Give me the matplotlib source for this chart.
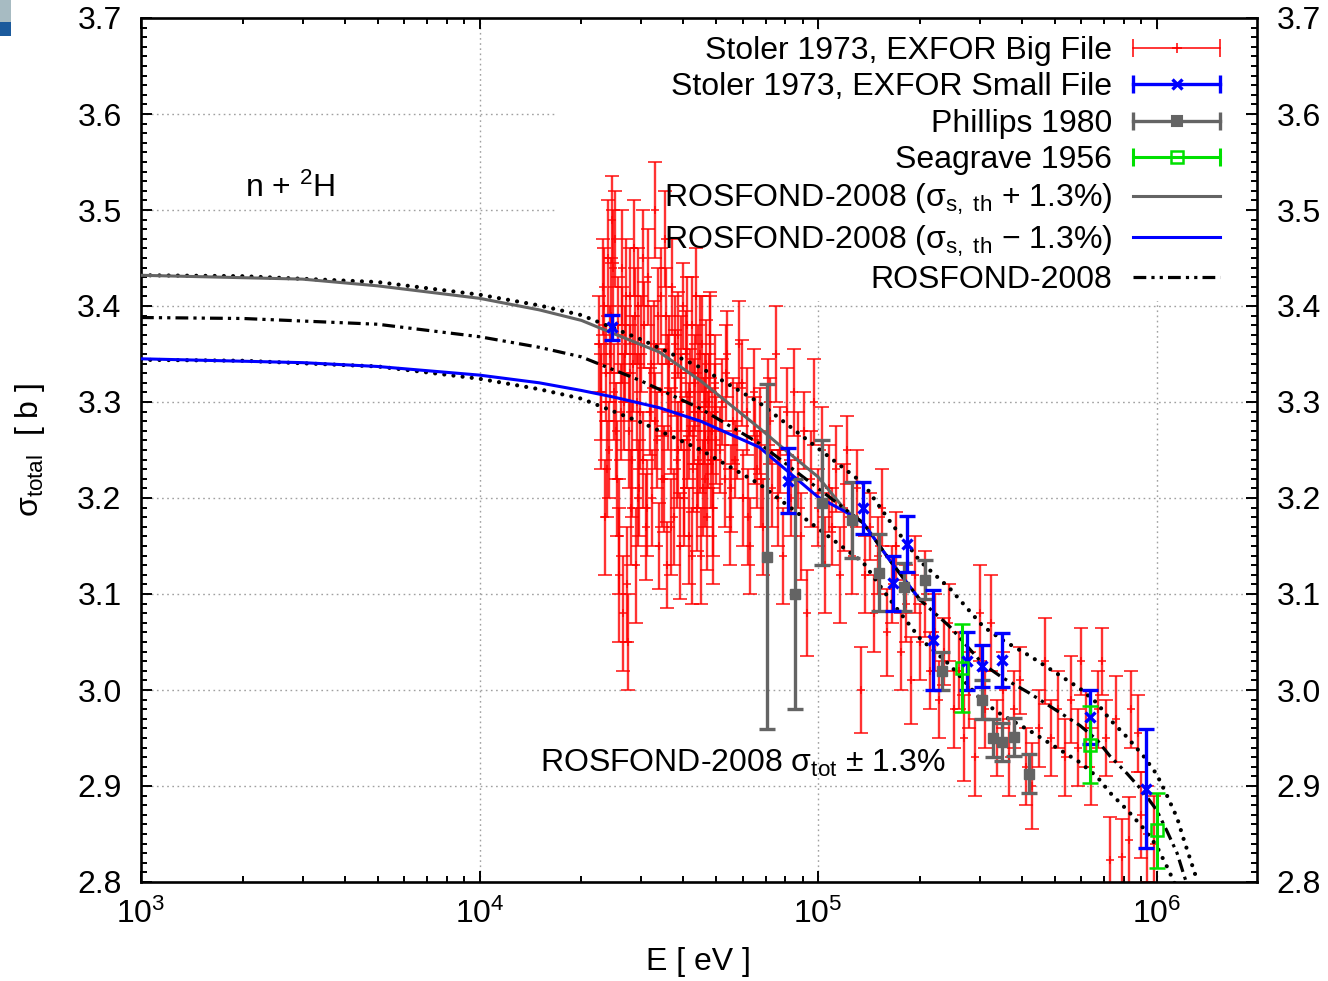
import matplotlib
matplotlib.use('Agg')
import matplotlib.pyplot as plt
from matplotlib.lines import Line2D
from matplotlib.patches import Rectangle
from matplotlib.legend_handler import HandlerLine2D
from matplotlib.ticker import MultipleLocator, LogLocator, FixedLocator, NullFormatter
import numpy as np

plt.rcParams['font.family'] = ['Liberation Sans', 'DejaVu Sans']
plt.rcParams['mathtext.fontset'] = 'custom'
plt.rcParams['mathtext.rm'] = 'Liberation Sans'
plt.rcParams['mathtext.it'] = 'Liberation Sans:italic'
plt.rcParams['mathtext.bf'] = 'Liberation Sans:bold'

FS = 23

# --- evaluated curves (E in eV, sigma in b) ---
ros_E = [1e3, 2e3, 5e3, 1e4, 1.5e4, 2e4, 3e4, 4.5e4, 6.7e4, 1.0e5, 1.36e5, 1.63e5,
         2.0e5, 2.45e5, 3.07e5, 3.5e5, 4.2e5, 5.1e5, 5.94e5, 6.67e5, 7.29e5, 8.18e5,
         9.13e5, 1.0e6, 1.07e6, 1.15e6, 1.2e6, 1.3e6]
ros_sig = [3.388, 3.387, 3.381, 3.368, 3.357, 3.347, 3.322, 3.293, 3.257, 3.210, 3.174, 3.135,
           3.094, 3.066, 3.027, 3.013, 2.997, 2.978, 2.963, 2.948, 2.931, 2.913,
           2.894, 2.875, 2.854, 2.830, 2.809, 2.772]

plus_E = [1e3, 3e3, 5e3, 1e4, 1.5e4, 2e4, 2.5e4, 3.4e4, 4.5e4, 6.7e4, 8e4, 1.0e5, 1.2e5,
          1.36e5, 1.63e5, 2.0e5]
plus_sig = [3.432, 3.428, 3.421, 3.408, 3.396, 3.385, 3.371, 3.352, 3.322, 3.273, 3.250, 3.222, 3.188,
            3.174, 3.135, 3.094]

minus_E = [1e3, 3e3, 5e3, 1e4, 1.5e4, 2e4, 2.5e4, 3.4e4, 4.5e4, 6.7e4, 8e4, 1.0e5, 1.2e5,
           1.36e5, 1.63e5, 2.0e5]
minus_sig = [3.345, 3.341, 3.337, 3.328, 3.320, 3.312, 3.305, 3.294, 3.280, 3.253, 3.230, 3.201, 3.186,
             3.174, 3.135, 3.094]

band = 0.013  # ROSFOND-2008 sigma_tot +- 1.3 %

# --- Stoler 1973, EXFOR big file (E in keV) ---
big_E = [22.6, 22.9, 23.1, 23.4, 23.6, 23.9, 24.1, 24.4, 24.6, 24.9,
         25.1, 25.4, 25.6, 25.9, 26.1, 26.4, 26.6, 26.9, 27.1, 27.4,
         27.6, 27.9, 28.1, 28.4, 28.6, 28.9, 29.1, 29.4, 29.6, 29.9,
         30.3, 30.7, 31.1, 31.5, 31.9, 32.3, 32.7, 33.1, 33.5, 33.9,
         34.3, 34.7, 35.1, 35.5, 35.9, 36.3, 36.7, 37.1, 37.5, 37.9,
         38.3, 38.7, 39.1, 39.5, 39.9, 40.3, 40.7, 41.1, 41.5, 41.9,
         42.3, 42.7, 43.1, 43.5, 43.9, 44.3, 44.7, 45.1, 45.5, 45.9,
         46.3, 46.7, 47.1, 47.5, 47.9, 48.3, 48.7, 49.1, 49.5, 49.9,
         52, 53, 54, 55, 56, 57, 58.5, 60, 61.5, 63,
         64.5, 66, 67.5, 69, 71, 73, 75, 77, 79, 81,
         83, 85, 87, 89, 91, 93, 95, 97.5, 100, 102.5,
         105, 107.5, 110, 113, 116, 119,
         122, 126, 130, 134, 138, 142, 146, 150, 155, 160,
         165, 170, 176, 182, 188, 194, 200, 207, 214, 221,
         228, 236, 244, 252, 260, 270, 280, 290, 300, 312,
         325, 338, 352, 366, 380, 396, 412, 430, 448, 468,
         488, 510, 535, 560, 585, 600, 620, 640, 670, 690,
         710, 730, 760, 790, 830, 840, 880, 900, 940, 980,
         22.8, 23.3, 23.8, 24.3, 24.8, 25.3, 25.8, 26.3, 26.8, 27.3,
         27.8, 28.3, 28.8, 29.3, 29.8, 30.5, 31.3, 32.1, 32.9, 33.7,
         34.5, 35.3, 36.1, 36.9, 37.7, 38.5, 39.3, 40.1, 40.9, 41.7,
         42.5, 43.3, 44.1, 44.9, 45.7, 46.5, 47.3, 48.1, 48.9, 49.7,
         51.5, 53.5, 55.5, 57.5, 59.5, 62, 65, 68, 72, 76]
big_sig = [3.36, 3.29, 3.42, 3.18, 3.33, 3.45, 3.25, 3.39, 3.49, 3.31,
           3.47, 3.22, 3.38, 3.12, 3.29, 3.44, 3.08, 3.35, 3.41, 3.05,
           3.27, 3.41, 3.19, 3.34, 3.46, 3.13, 3.30, 3.40, 3.21, 3.36,
           3.24, 3.38, 3.17, 3.43, 3.29, 3.20, 3.36, 3.50, 3.26, 3.15,
           3.41, 3.31, 3.22, 3.39, 3.13, 3.34, 3.27, 3.42, 3.18, 3.33,
           3.24, 3.37, 3.15, 3.30, 3.40, 3.21, 3.35, 3.26, 3.16, 3.31,
           3.38, 3.23, 3.29, 3.41, 3.19, 3.33, 3.25, 3.14, 3.36, 3.28,
           3.22, 3.34, 3.18, 3.30, 3.37, 3.24, 3.27, 3.16, 3.32, 3.26,
           3.30, 3.22, 3.35, 3.18, 3.28, 3.24, 3.36, 3.20, 3.29, 3.15,
           3.31, 3.23, 3.27, 3.17, 3.30, 3.21, 3.35, 3.25, 3.14, 3.29,
           3.20, 3.31, 3.24, 3.16, 3.27, 3.08, 3.22, 3.30, 3.19, 3.25,
           3.13, 3.21, 3.17, 3.23, 3.12, 3.19,
           3.25, 3.14, 3.21, 3.00, 3.12, 3.17, 3.08, 3.14, 3.19, 3.06,
           3.11, 3.15, 3.04, 3.09, 3.01, 3.12, 3.05, 3.10, 3.02, 3.06,
           2.99, 3.04, 3.07, 2.98, 3.02, 2.95, 3.00, 2.93, 3.08, 2.98,
           3.07, 2.95, 3.00, 2.93, 2.98, 3.01, 2.92, 2.90, 2.96, 3.03,
           2.95, 2.98, 2.93, 2.99, 2.94, 3.03, 2.96, 2.92, 2.98, 3.03,
           2.95, 2.823, 2.97, 2.826, 2.844, 2.98, 2.955, 2.87, 2.85, 2.84,
           3.31, 3.40, 3.23, 3.35, 3.44, 3.27, 3.16, 3.37, 3.30, 3.11,
           3.33, 3.24, 3.39, 3.20, 3.29, 3.45, 3.19, 3.34, 3.28, 3.39,
           3.22, 3.47, 3.31, 3.17, 3.36, 3.25, 3.33, 3.20, 3.38, 3.27,
           3.14, 3.32, 3.24, 3.35, 3.21, 3.30, 3.26, 3.36, 3.19, 3.29,
           3.25, 3.33, 3.21, 3.27, 3.32, 3.18, 3.26, 3.22, 3.28, 3.20]
big_err = [0.05, 0.06, 0.05, 0.06, 0.05, 0.06, 0.05, 0.06, 0.045, 0.05,
           0.05, 0.06, 0.05, 0.07, 0.05, 0.06, 0.06, 0.05, 0.06, 0.05,
           0.06, 0.05, 0.06, 0.05, 0.05, 0.06, 0.05, 0.06, 0.05, 0.05,
           0.05, 0.045, 0.055, 0.05, 0.045, 0.05, 0.045, 0.05, 0.05, 0.045,
           0.05, 0.045, 0.055, 0.05, 0.045, 0.05, 0.045, 0.05, 0.05, 0.045,
           0.05, 0.045, 0.055, 0.05, 0.045, 0.05, 0.045, 0.05, 0.05, 0.045,
           0.05, 0.045, 0.055, 0.05, 0.045, 0.05, 0.045, 0.05, 0.05, 0.045,
           0.05, 0.045, 0.055, 0.05, 0.045, 0.05, 0.045, 0.05, 0.05, 0.045,
           0.045, 0.05, 0.045, 0.05, 0.045, 0.04, 0.045, 0.05, 0.045, 0.05,
           0.045, 0.04, 0.045, 0.05, 0.045, 0.04, 0.05, 0.045, 0.05, 0.045,
           0.04, 0.045, 0.05, 0.045, 0.04, 0.045, 0.05, 0.045, 0.04, 0.045,
           0.05, 0.045, 0.04, 0.045, 0.05, 0.045,
           0.035, 0.04, 0.04, 0.045, 0.04, 0.035, 0.04, 0.04, 0.04, 0.045,
           0.04, 0.035, 0.04, 0.04, 0.045, 0.04, 0.04, 0.045, 0.04, 0.04,
           0.04, 0.035, 0.04, 0.04, 0.04, 0.045, 0.04, 0.04, 0.05, 0.04,
           0.05, 0.04, 0.04, 0.04, 0.04, 0.035, 0.04, 0.045, 0.04, 0.045,
           0.04, 0.04, 0.04, 0.045, 0.04, 0.035, 0.04, 0.04, 0.04, 0.035,
           0.04, 0.045, 0.045, 0.04, 0.045, 0.04, 0.04, 0.045, 0.05, 0.05,
           0.05, 0.06, 0.05, 0.05, 0.06, 0.05, 0.06, 0.05, 0.05, 0.06,
           0.05, 0.06, 0.05, 0.05, 0.06, 0.05, 0.05, 0.06, 0.05, 0.05,
           0.05, 0.05, 0.06, 0.05, 0.05, 0.05, 0.06, 0.05, 0.05, 0.05,
           0.05, 0.05, 0.05, 0.06, 0.05, 0.05, 0.05, 0.05, 0.05, 0.05,
           0.045, 0.05, 0.045, 0.05, 0.045, 0.05, 0.045, 0.05, 0.045, 0.05]

# --- Stoler 1973, EXFOR small file ---
small_E = [24.6e3, 81.5e3, 1.36e5, 1.66e5, 1.83e5, 2.19e5, 2.75e5, 3.05e5, 3.5e5, 6.35e5, 9.3e5]
small_sig = [3.378, 3.218, 3.190, 3.111, 3.152, 3.052, 3.030, 3.025, 3.031, 2.972, 2.897]
small_err = [0.013, 0.034, 0.027, 0.029, 0.029, 0.052, 0.030, 0.022, 0.028, 0.028, 0.062]

# --- Phillips 1980 ---
phil_E = [70.6e3, 85.5e3, 1.03e5, 1.26e5, 1.51e5, 1.8e5, 2.07e5, 2.32e5, 3.05e5, 3.29e5, 3.5e5, 3.8e5, 4.2e5]
phil_sig = [3.139, 3.100, 3.195, 3.177, 3.122, 3.107, 3.115, 3.020, 2.990, 2.950, 2.946, 2.951, 2.913]
phil_err = [0.180, 0.120, 0.065, 0.040, 0.040, 0.025, 0.020, 0.020, 0.020, 0.020, 0.020, 0.020, 0.020]

# --- Seagrave 1956 ---
sea_E = [2.66e5, 6.35e5, 1.0e6]
sea_sig = [3.023, 2.943, 2.854]
sea_err = [0.046, 0.040, 0.039]

RED = '#ff0000'
BLUE = '#0000ff'
GRAY = '#646464'
GREEN = '#00e000'

fig = plt.figure(figsize=(13.28, 9.81), dpi=100)
ax = fig.add_axes([141 / 1328, 99 / 981, 1116 / 1328, 864 / 981])
ax.set_xscale('log')
ax.set_xlim(1e3, 1.98e6)
ax.set_ylim(2.8, 3.7)

# dotted grid, hidden behind the key area like gnuplot's opaque key
for yv in np.arange(2.9, 3.65, 0.1):
    ax.axhline(yv, color='#a0a0a0', lw=1.0, ls=(0, (1.2, 2.5)), zorder=0.3)
for xv in [1e4, 1e5, 1e6]:
    ax.axvline(xv, color='#a0a0a0', lw=1.0, ls=(0, (1.2, 2.5)), zorder=0.3)
ax.add_patch(Rectangle((0.371, 0.672), 0.629 - 0.012, 0.328 - 0.014, transform=ax.transAxes,
                       facecolor='white', edgecolor='none', zorder=0.6))

# data
ax.errorbar(np.array(big_E) * 1e3, big_sig, yerr=big_err, fmt='+', color=RED, ms=6, mew=1.3,
            elinewidth=1.7, capsize=5, capthick=1.5, alpha=0.8, zorder=2)

ros = np.array(ros_sig)
ax.plot(ros_E, ros * (1 + band), color='black', lw=3.0, ls=(0, (0.01, 2.2)),
        dash_capstyle='round', zorder=3)
ax.plot(ros_E, ros * (1 - band), color='black', lw=3.0, ls=(0, (0.01, 2.2)),
        dash_capstyle='round', zorder=3)
l_plus, = ax.plot(plus_E, plus_sig, color=GRAY, lw=2.2, zorder=3)
l_minus, = ax.plot(minus_E, minus_sig, color=BLUE, lw=2.2, zorder=3)
l_ros, = ax.plot(ros_E, ros_sig, color='black', lw=2.3, ls=(0, (4, 1.6, 1, 1.6, 1, 1.6)), zorder=3.2)

ax.errorbar(phil_E, phil_sig, yerr=phil_err, fmt='s', color=GRAY, ms=7, elinewidth=2.4,
            capsize=6, capthick=2.4, zorder=4)
ax.errorbar(small_E, small_sig, yerr=small_err, fmt='x', color=BLUE, ms=7, mew=2.4,
            elinewidth=2.4, capsize=6, capthick=2.4, zorder=4)
ax.errorbar(sea_E, sea_sig, yerr=sea_err, fmt='s', color=GREEN, mfc='none', mec=GREEN, ms=9,
            mew=1.8, elinewidth=2.2, capsize=6, capthick=2.2, zorder=4)

# annotations
ax.text(2.03e3, 3.5135, r'n + $^{2}$H', fontsize=FS, va='baseline', ha='left')
ax.text(1.51e4, 2.9145, 'ROSFOND-2008 σ$_{\\rm tot}$ ± 1.3%', fontsize=FS, va='baseline', ha='left')

# ticks
ax.xaxis.set_major_locator(FixedLocator([1e3, 1e4, 1e5, 1e6]))
ax.xaxis.set_minor_locator(LogLocator(base=10, subs=np.arange(2, 10)))
ax.xaxis.set_minor_formatter(NullFormatter())
ax.yaxis.set_major_locator(MultipleLocator(0.1))
ax.yaxis.set_minor_locator(MultipleLocator(0.01))
ax.yaxis.set_major_formatter(plt.FuncFormatter(lambda v, p: '%.1f' % v))
ax.tick_params(which='both', direction='in', top=True, right=True, width=1.4, colors='black')
ax.tick_params(which='major', length=8)
ax.tick_params(which='minor', length=4.5)
ax.tick_params(axis='y', labelright=True, labelsize=FS, pad=14)
ax.tick_params(axis='x', labelsize=FS, pad=12)
for s in ax.spines.values():
    s.set_linewidth(1.9)

fig.text(30 / 1328, 1 - 450 / 981, 'σ$_{\\rm total}$  [ b ]', rotation=90, fontsize=FS,
         ha='center', va='center')
fig.text(698 / 1328, 1 - 962 / 981, 'E [ eV ]', fontsize=FS, ha='center', va='center')


# key
def bar_key(color, lw, marker, ms, mfc, mew):
    bar = Line2D([], [], color=color, lw=lw, marker='|', markersize=13, markeredgewidth=lw)
    mid = Line2D([], [], ls='none', color=color, marker=marker, markersize=ms,
                 markerfacecolor=mfc, markeredgecolor=color, markeredgewidth=mew)
    return bar, mid


k_big = bar_key(RED, 1.1, '+', 7, RED, 1.1)
k_small = bar_key(BLUE, 2.4, 'x', 7, BLUE, 2.4)
k_phil = bar_key(GRAY, 2.4, 's', 7, GRAY, 1.5)
k_sea = bar_key(GREEN, 2.2, 's', 9, 'none', 1.8)
hmap = {k[0]: HandlerLine2D(numpoints=2, marker_pad=0) for k in [k_big, k_small, k_phil, k_sea]}

handles = [k_big, k_small, k_phil, k_sea, l_plus, l_minus, l_ros]
labels = ['Stoler 1973, EXFOR Big File',
          'Stoler 1973, EXFOR Small File',
          'Phillips 1980',
          'Seagrave 1956',
          'ROSFOND-2008 (σ$_{\\rm s,\\ th}$ + 1.3%)',
          'ROSFOND-2008 (σ$_{\\rm s,\\ th}$ − 1.3%)',
          'ROSFOND-2008']
leg = ax.legend(handles, labels, handler_map=hmap, loc='upper right',
                bbox_to_anchor=((1220 - 141) / 1116, (882 - 36) / 864), borderaxespad=0, borderpad=0,
                frameon=False, markerfirst=False, fontsize=FS, handlelength=2.72,
                handletextpad=0.66, labelspacing=0.2, numpoints=1)
leg.set_zorder(5)

# screenshot edge artefact in the corner
fig.add_artist(Rectangle((0, 1 - 22 / 981), 11 / 1328, 22 / 981, transform=fig.transFigure,
                         facecolor='#a7bbc2', edgecolor='none'))
fig.add_artist(Rectangle((0, 1 - 36 / 981), 11 / 1328, 14 / 981, transform=fig.transFigure,
                         facecolor='#1b5a9c', edgecolor='none'))

fig.savefig('out.png', dpi=100, facecolor='white')
